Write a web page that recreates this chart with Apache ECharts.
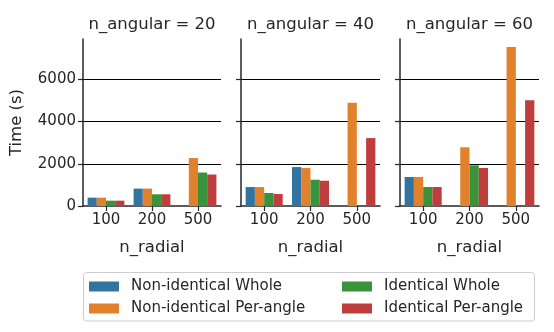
<!DOCTYPE html>
<html>
<head>
<meta charset="utf-8">
<script src="https://cdn.jsdelivr.net/npm/echarts@6/dist/echarts.min.js"></script>
<style>html,body{margin:0;padding:0;background:#fff}#c{width:554px;height:332px}</style>
</head>
<body>
<div id="c"></div>
<script>
const categories = ['100', '200', '500'];
const panelTitles = ['n_angular = 20', 'n_angular = 40', 'n_angular = 60'];
const seriesNames = ['Non-identical Whole', 'Non-identical Per-angle', 'Identical Whole', 'Identical Per-angle'];
const yTicks = [0, 2000, 4000, 6000];
const yMax = 7910;

// values per panel: [100, 200, 500]
const nonIdWhole = [[395, 824, null], [898, 1844, null], [1374, null, null]];
const nonIdPerAngle = [[395, 824, 2270], [898, 1797, 4886], [1374, 2780, 7532]];
const idWhole = [[252, 555, 1586], [615, 1245, null], [900, 1927, null]];
const idPerAngle = [[252, 555, 1490], [567, 1197, 3216], [900, 1800, 5006]];

const seriesValues = [nonIdWhole, nonIdPerAngle, idWhole, idPerAngle];
const colors = ['#3274a1', '#e1812c', '#3a923a', '#c03d3e'];

const FONT = 'DejaVu Sans';
const dark = '#262626';
const gridLefts = [83, 241, 400];
const gridWidths = [138, 139, 139];
const gridTop = 39, gridH = 167;

const grids = [], xAxes = [], yAxes = [], series = [], graphics = [];
for (let p = 0; p < 3; p++) {
  grids.push({left: gridLefts[p], top: gridTop, width: gridWidths[p], height: gridH});
  xAxes.push({
    type: 'category', gridIndex: p, data: categories,
    axisLine: {show: true, lineStyle: {color: dark, width: 1.5}},
    axisTick: {show: true, alignWithLabel: true, length: 5, lineStyle: {color: dark, width: 1.2}},
    axisLabel: {fontFamily: FONT, fontSize: 15, color: dark, margin: 7},
    name: 'n_radial', nameLocation: 'middle', nameGap: 33,
    nameTextStyle: {fontFamily: FONT, fontSize: 16.5, color: dark},
    splitLine: {show: false}
  });
  yAxes.push({
    type: 'value', gridIndex: p, min: 0, max: yMax, interval: 2000,
    axisLine: {show: true, lineStyle: {color: dark, width: 1.5}},
    axisTick: {show: true, length: 5, customValues: yTicks, lineStyle: {color: dark, width: 1.2}},
    axisLabel: {show: p === 0, customValues: yTicks, formatter: v => String(v), fontFamily: FONT, fontSize: 15, color: dark, margin: 7},
    splitLine: {show: true, showMinLine: false, lineStyle: {color: '#000', width: 1}},
    name: p === 0 ? 'Time (s)' : '', nameLocation: 'middle', nameGap: 58,
    nameTextStyle: {fontFamily: FONT, fontSize: 16.5, color: dark}
  });
  for (let s = 0; s < 4; s++) {
    series.push({
      type: 'bar', name: seriesNames[s], xAxisIndex: p, yAxisIndex: p,
      data: seriesValues[s][p], barGap: '0%', barCategoryGap: '20%',
      itemStyle: {color: colors[s]}, z: 3
    });
  }
  graphics.push({
    type: 'text', x: gridLefts[p] + gridWidths[p] / 2, y: 25,
    style: {text: panelTitles[p], font: '16.5px "DejaVu Sans"', fill: dark, textAlign: 'center', textVerticalAlign: 'middle'}
  });
}
graphics.push({
  type: 'rect', shape: {x: 83.5, y: 272.5, width: 451, height: 48.5, r: 3},
  style: {fill: 'rgba(255,255,255,0.8)', stroke: '#cccccc', lineWidth: 1}, z: -1
});

const legendPos = [[89, 279], [89, 301], [342, 279], [342, 301]];
const legends = seriesNames.map((n, i) => ({
  data: [n], left: legendPos[i][0], top: legendPos[i][1], padding: 0,
  icon: 'rect', itemWidth: 30, itemHeight: 10, selectedMode: false,
  textStyle: {fontFamily: FONT, fontSize: 15, color: dark, padding: [0, 0, 0, 7]}
}));

const chart = echarts.init(document.getElementById('c'), null, {renderer: 'canvas'});
chart.setOption({
  animation: false,
  color: colors,
  grid: grids, xAxis: xAxes, yAxis: yAxes, series: series,
  legend: legends, graphic: graphics
});
</script>
</body>
</html>
